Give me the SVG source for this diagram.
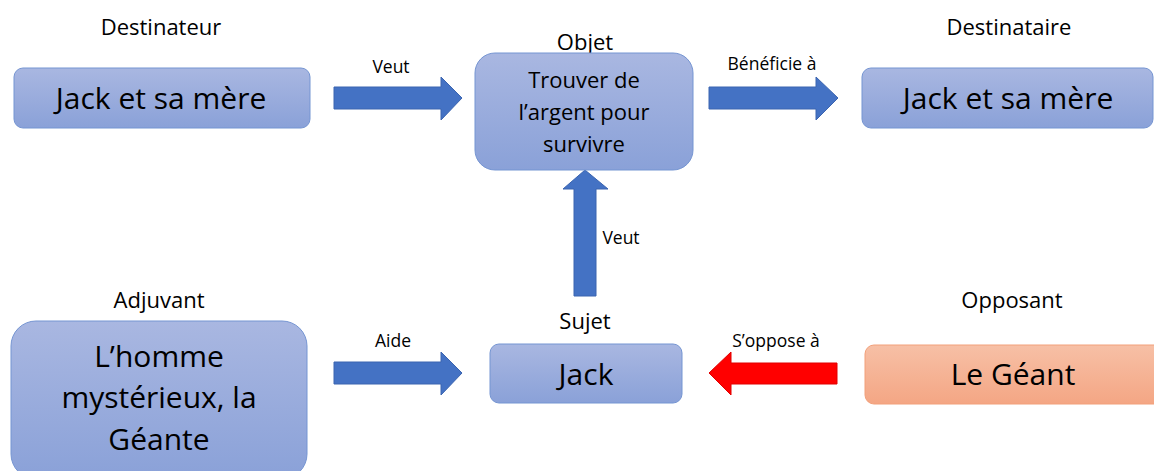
<svg xmlns="http://www.w3.org/2000/svg" width="1154" height="471" viewBox="0 0 1154 471">
<defs>
<linearGradient id="gb" x1="0" y1="0" x2="0" y2="1">
<stop offset="0" stop-color="#a9b7e1"/><stop offset="1" stop-color="#8aa1d8"/>
</linearGradient>
<linearGradient id="go" x1="0" y1="0" x2="0" y2="1">
<stop offset="0" stop-color="#f7c0a6"/><stop offset="1" stop-color="#f4a684"/>
</linearGradient>
<style>
.nb{fill:url(#gb);stroke:#7595d2;stroke-width:1}
.no{fill:url(#go);stroke:#f2a07a;stroke-width:1}
.t{font-family:"Open Sans","Liberation Sans",sans-serif;fill:#000;text-anchor:middle}
.big{font-size:30px}
.mid{font-size:22px}
.hd{font-size:22px}
.sm{font-size:17.5px}
.ab{fill:#4472c4;stroke:#3a64b0;stroke-width:1}
.ar{fill:#ff0000;stroke:#e00000;stroke-width:1}
</style>
</defs>
<rect width="1154" height="471" fill="#fff"/>
<g id="labels">
<text class="t hd" x="161" y="35">Destinateur</text>
<text class="t hd" x="585" y="50">Objet</text>
<text class="t hd" x="1009" y="35">Destinataire</text>
<text class="t hd" x="159" y="308">Adjuvant</text>
<text class="t hd" x="585" y="329">Sujet</text>
<text class="t hd" x="1012" y="308">Opposant</text>
</g>
<g id="connectors">
<polygon class="ab" points="334,87 441,87 441,77 462,98 441,120 441,109 334,109"/>
<text class="t sm" x="391" y="73">Veut</text>
<polygon class="ab" points="709,87 816,87 816,77 838,98 816,120 816,109 709,109"/>
<text class="t sm" x="772" y="70">Bénéficie à</text>
<polygon class="ab" points="574,296 574,189 563,189 585,170 608,189 596,189 596,296"/>
<text class="t sm" x="621" y="244">Veut</text>
<polygon class="ab" points="334,362 441,362 441,352 462,373 441,395 441,384 334,384"/>
<text class="t sm" x="393" y="347">Aide</text>
<polygon class="ar" points="837,363 731,363 731,352 709,373 731,395 731,384 837,384"/>
<text class="t sm" x="776" y="347">S’oppose à</text>
</g>
<g id="destinateur">
<rect class="nb" x="14" y="68" width="296" height="60" rx="9"/>
<text class="t big" x="161" y="109">Jack et sa mère</text>
</g>
<g id="objet">
<rect class="nb" x="475" y="53" width="218" height="117" rx="20"/>
<text class="t mid" x="584" y="88">Trouver de</text>
<text class="t mid" x="584" y="120">l’argent pour</text>
<text class="t mid" x="584" y="152">survivre</text>
</g>
<g id="destinataire">
<rect class="nb" x="862" y="68" width="291" height="60" rx="9"/>
<text class="t big" x="1008" y="109">Jack et sa mère</text>
</g>
<g id="adjuvant">
<rect class="nb" x="11" y="321" width="296" height="158" rx="25"/>
<text class="t big" x="159" y="367">L’homme</text>
<text class="t big" x="159" y="408">mystérieux, la</text>
<text class="t big" x="159" y="450">Géante</text>
</g>
<g id="sujet">
<rect class="nb" x="490" y="344" width="192" height="59" rx="9"/>
<text class="t big" x="586" y="385">Jack</text>
</g>
<g id="opposant">
<rect class="no" x="865" y="345" width="300" height="59" rx="9"/>
<text class="t big" x="1013" y="385">Le Géant</text>
</g>
</svg>
